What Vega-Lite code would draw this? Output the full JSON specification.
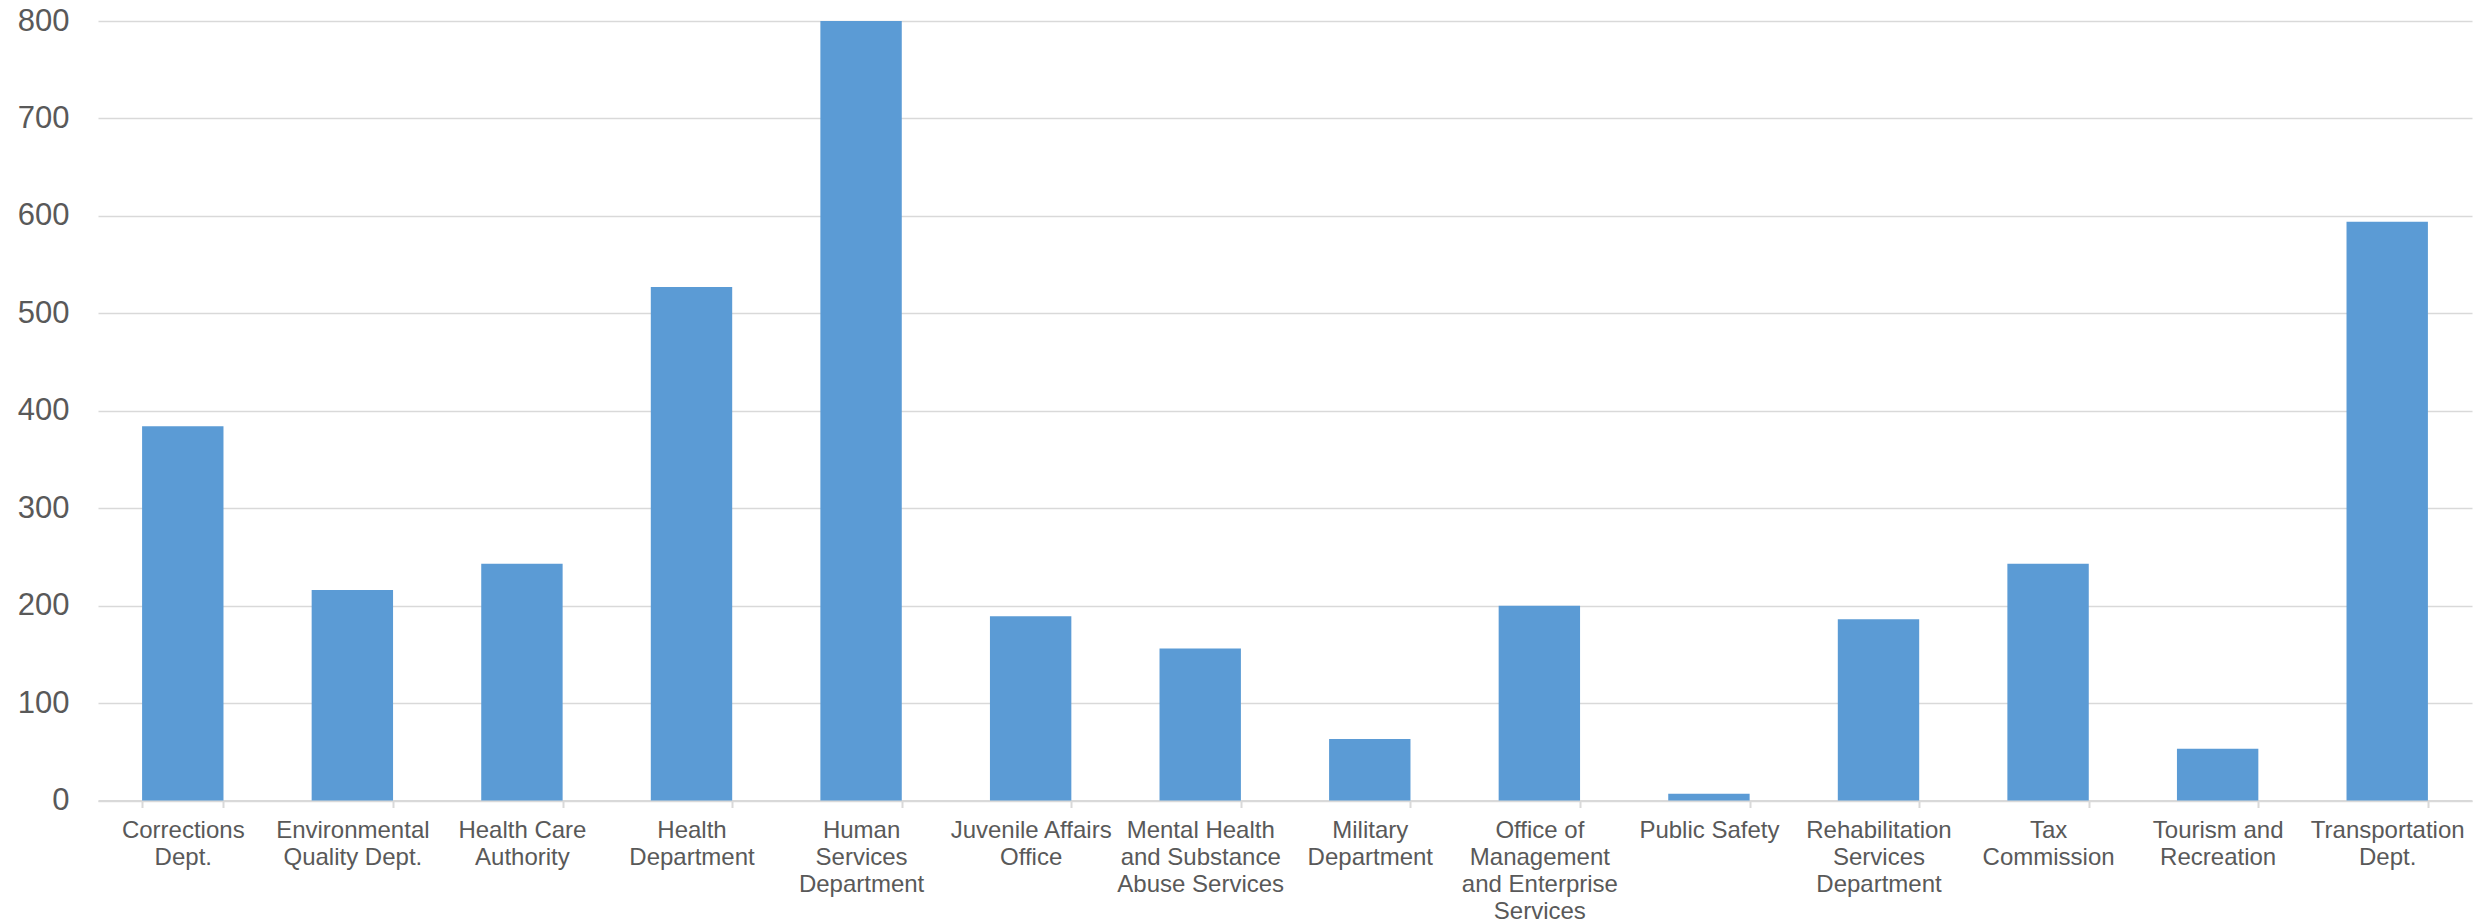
{
  "$schema": "https://vega.github.io/schema/vega-lite/v6.json",
  "autosize": {"type": "none"},
  "padding": {"left": 98, "top": 21, "right": 13, "bottom": 124},
  "width": 2374,
  "height": 779.5,
  "background": "#ffffff",
  "config": {
    "view": {"stroke": null},
    "font": "Liberation Sans, Arial, sans-serif"
  },
  "data": {
    "values": [
      {"department": "Corrections Dept.", "count": 384},
      {"department": "Environmental Quality Dept.", "count": 216},
      {"department": "Health Care Authority", "count": 243},
      {"department": "Health Department", "count": 527},
      {"department": "Human Services Department", "count": 800},
      {"department": "Juvenile Affairs Office", "count": 189},
      {"department": "Mental Health and Substance Abuse Services", "count": 156},
      {"department": "Military Department", "count": 63},
      {"department": "Office of Management and Enterprise Services", "count": 200},
      {"department": "Public Safety", "count": 7},
      {"department": "Rehabilitation Services Department", "count": 186},
      {"department": "Tax Commission", "count": 243},
      {"department": "Tourism and Recreation", "count": 53},
      {"department": "Transportation Dept.", "count": 594}
    ]
  },
  "mark": {"type": "bar", "color": "#5B9BD5"},
  "encoding": {
    "x": {
      "field": "department",
      "type": "nominal",
      "sort": null,
      "title": null,
      "scale": {"paddingInner": 0.52, "paddingOuter": 0.26},
      "axis": {
        "labelAngle": 0,
        "labelFontSize": 24,
        "labelColor": "#595959",
        "labelLineHeight": 27,
        "labelBaseline": "top",
        "labelPadding": 11,
        "labelLimit": 0,
        "labelOverlap": false,
        "labelExpr": "datum.value == 'Corrections Dept.' ? ['Corrections', 'Dept.'] : datum.value == 'Environmental Quality Dept.' ? ['Environmental', 'Quality Dept.'] : datum.value == 'Health Care Authority' ? ['Health Care', 'Authority'] : datum.value == 'Health Department' ? ['Health', 'Department'] : datum.value == 'Human Services Department' ? ['Human', 'Services', 'Department'] : datum.value == 'Juvenile Affairs Office' ? ['Juvenile Affairs', 'Office'] : datum.value == 'Mental Health and Substance Abuse Services' ? ['Mental Health', 'and Substance', 'Abuse Services'] : datum.value == 'Military Department' ? ['Military', 'Department'] : datum.value == 'Office of Management and Enterprise Services' ? ['Office of', 'Management', 'and Enterprise', 'Services'] : datum.value == 'Rehabilitation Services Department' ? ['Rehabilitation', 'Services', 'Department'] : datum.value == 'Tax Commission' ? ['Tax', 'Commission'] : datum.value == 'Tourism and Recreation' ? ['Tourism and', 'Recreation'] : datum.value == 'Transportation Dept.' ? ['Transportation', 'Dept.'] : datum.value",
        "domainColor": "#D9D9D9",
        "domainWidth": 2,
        "ticks": true,
        "tickBand": "extent",
        "tickColor": "#D9D9D9",
        "tickWidth": 2,
        "tickSize": 7,
        "grid": false
      }
    },
    "y": {
      "field": "count",
      "type": "quantitative",
      "title": null,
      "scale": {"domain": [0, 800], "nice": false},
      "axis": {
        "values": [0, 100, 200, 300, 400, 500, 600, 700, 800],
        "labelFontSize": 31,
        "labelColor": "#595959",
        "labelPadding": 29,
        "ticks": false,
        "tickSize": 0,
        "domain": false,
        "grid": true,
        "gridColor": "#D9D9D9",
        "gridWidth": 1.5
      }
    }
  }
}
